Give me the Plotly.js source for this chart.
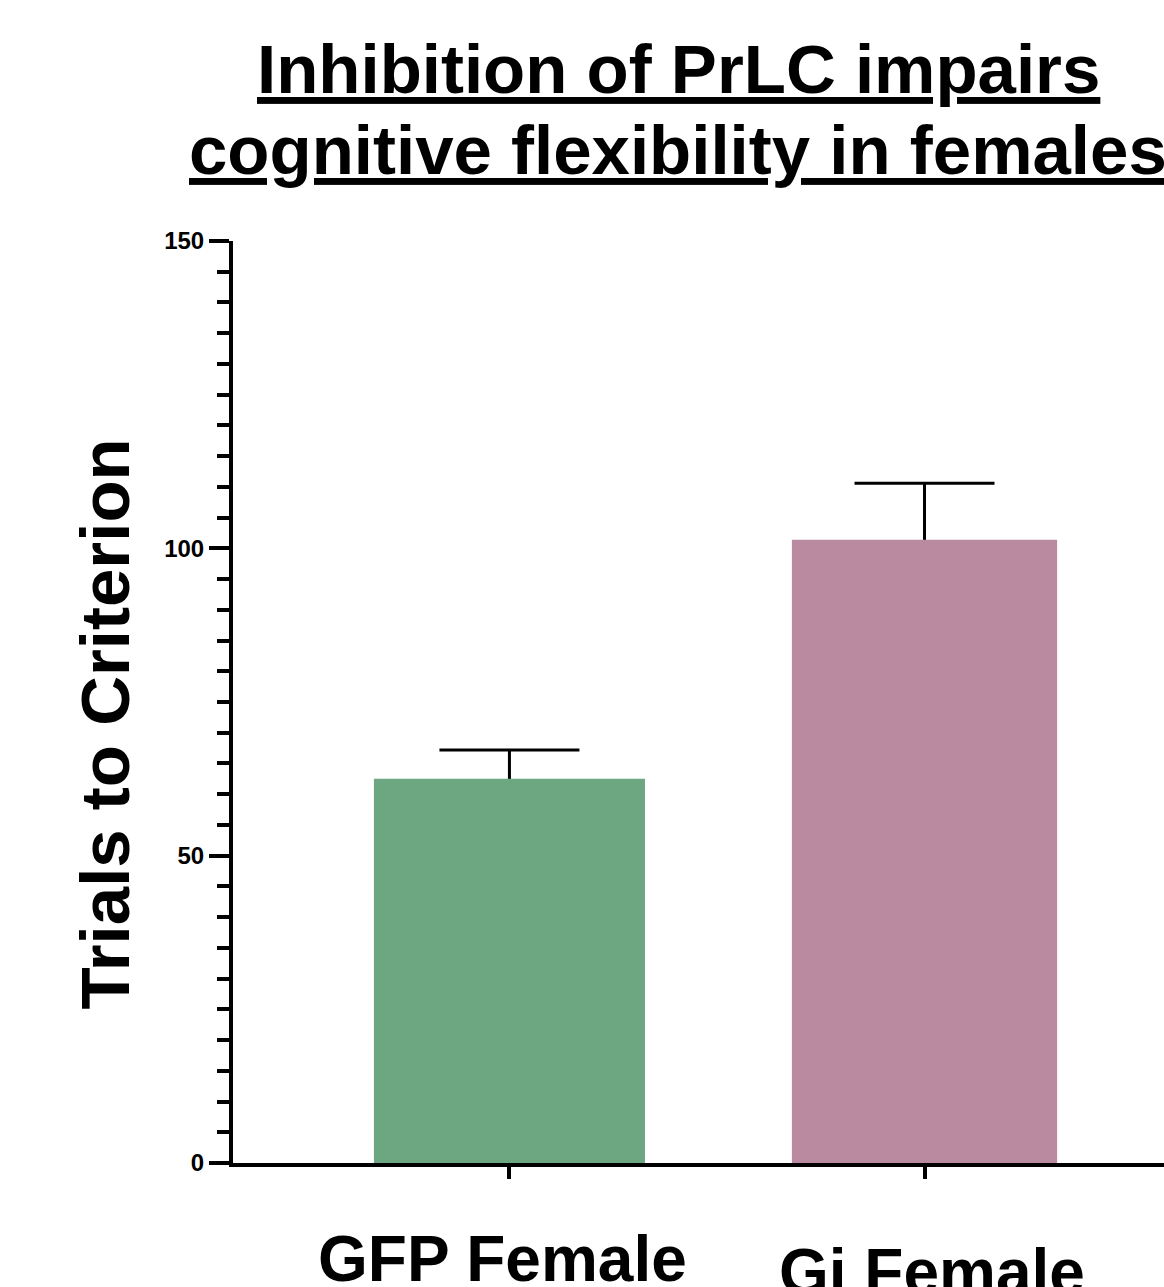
<!DOCTYPE html>
<html>
<head>
<meta charset="utf-8">
<script src="https://cdn.plot.ly/plotly-3.0.1.min.js"></script>
<style>html,body{margin:0;padding:0;background:#fff;}#chart{width:1164px;height:1287px;}</style>
</head>
<body>
<div id="chart"></div>
<script>
const categories = ["GFP Female", "Gi Female"];
const meanTrials = [62.5, 101.4];
const semTrials = [4.7, 9.2];
const barColors = ["#6CA781", "#BA8BA0"];
const titleLines = ["Inhibition of PrLC impairs", "cognitive flexibility in females"];
const yAxisTitle = "Trials to Criterion";
const yTickVals = [0, 50, 100, 150];

const FONT = '"Liberation Sans", Arial, Helvetica, sans-serif';
const barWidths = [0.653, 0.639];

// error bars (upper half visible; lower half hidden beneath the opaque bars drawn after)
const errTrace = {
  type: 'bar',
  x: categories,
  y: meanTrials,
  width: barWidths,
  marker: {color: 'rgba(0,0,0,0)', line: {width: 0}},
  error_y: {
    type: 'data',
    symmetric: true,
    array: semTrials,
    color: '#000',
    thickness: 3,
    width: 70
  },
  hoverinfo: 'none'
};

const barTrace = {
  type: 'bar',
  x: categories,
  y: meanTrials,
  width: barWidths,
  marker: {color: barColors, line: {width: 0}},
  hoverinfo: 'none'
};

const labelShift = [-7, 7];
const labelY = [-0.0629, -0.0770];
const catLabels = categories.map((c, i) => ({
  text: c, xref: 'x', yref: 'paper', x: c, y: labelY[i], xshift: labelShift[i],
  xanchor: 'center', yanchor: 'top', showarrow: false,
  font: {family: FONT, size: 64, weight: 'bold', color: '#000'}
}));

const layout = {
  width: 1164,
  height: 1287,
  margin: {l: 233, r: 0, t: 241, b: 124},
  paper_bgcolor: '#fff',
  plot_bgcolor: '#fff',
  showlegend: false,
  barmode: 'overlay',
  font: {family: FONT, color: '#000'},
  xaxis: {
    type: 'category',
    range: [-0.666, 1.577],
    showline: true,
    linecolor: '#000',
    linewidth: 4,
    ticks: 'outside',
    ticklen: 12,
    tickwidth: 4,
    tickcolor: '#000',
    showgrid: false,
    zeroline: false,
    showticklabels: false
  },
  yaxis: {
    range: [0, 150],
    tickvals: yTickVals,
    ticktext: yTickVals.map(String),
    showline: true,
    linecolor: '#000',
    linewidth: 4,
    ticks: 'outside',
    ticklen: 20,
    tickwidth: 4,
    tickcolor: '#000',
    showgrid: false,
    zeroline: false,
    tickfont: {family: FONT, size: 24, weight: 'bold', color: '#000'},
    minor: {dtick: 5, ticks: 'outside', ticklen: 12, tickwidth: 4, tickcolor: '#000', showgrid: false}
  },
  annotations: [
    {text: '<u>' + titleLines[0] + '</u>', xref: 'paper', yref: 'paper', x: 0.478, y: 1.186,
     xanchor: 'center', yanchor: 'middle', showarrow: false,
     font: {family: FONT, size: 69, weight: 'bold', color: '#000'}},
    {text: '<u>' + titleLines[1] + '</u>', xref: 'paper', yref: 'paper', x: 0.478, y: 1.098,
     xanchor: 'center', yanchor: 'middle', showarrow: false,
     font: {family: FONT, size: 69, weight: 'bold', color: '#000'}},
    {text: yAxisTitle, xref: 'paper', yref: 'paper', x: -0.137, y: 0.476,
     xanchor: 'center', yanchor: 'middle', textangle: -90, showarrow: false,
     font: {family: FONT, size: 69, weight: 'bold', color: '#000'}}
  ].concat(catLabels)
};

Plotly.newPlot('chart', [errTrace, barTrace], layout, {displayModeBar: false, staticPlot: true});
</script>
</body>
</html>
